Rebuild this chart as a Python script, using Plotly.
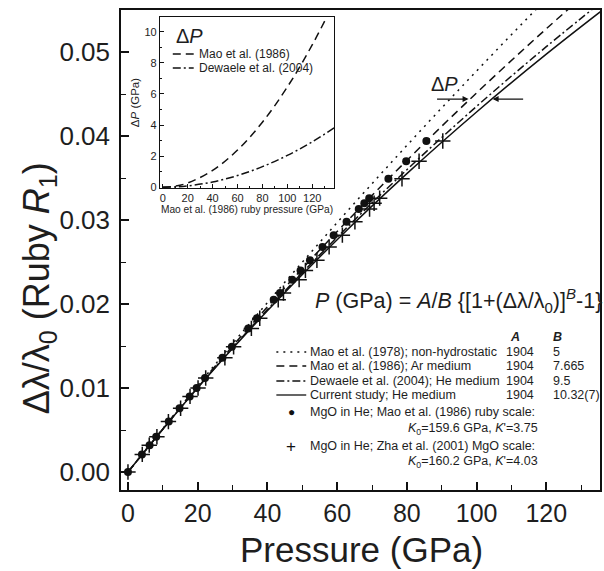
import plotly.graph_objects as go

# ---------------- data ----------------
# Ruby gauge curves: Δλ/λ0 vs pressure (GPa) for each calibration (A=1904)
P_grid = [0, 20, 40, 60, 80, 100, 120, 140]
y_mao1978 = [0.0, 0.010290, 0.020178, 0.029695, 0.038874, 0.047739, 0.056315, 0.0645]
y_mao1986 = [0.0, 0.010154, 0.019670, 0.028629, 0.037095, 0.045126, 0.052764, 0.060050]
y_dewaele = [0.0, 0.010062, 0.019340, 0.027950, 0.035987, 0.043528, 0.050631, 0.057349]
y_current = [0.0, 0.010023, 0.019197, 0.027660, 0.035519, 0.042859, 0.049747, 0.056239]

legend_rows = ["Mao et al. (1978); non-hydrostatic", "Mao et al. (1986); Ar medium",
               "Dewaele et al. (2004); He medium", "Current study; He medium"]
A_vals = ["1904", "1904", "1904", "1904"]
B_vals = ["5", "7.665", "9.5", "10.32(7)"]

# MgO in He: ruby shift and pressures on the two scales
mgo_shift = [0.0, 0.0021, 0.0032, 0.0042, 0.0060, 0.0076, 0.0090, 0.0100, 0.0112, 0.0136,
             0.0149, 0.0171, 0.0183, 0.0205, 0.0213, 0.0229, 0.0240, 0.0252, 0.0268,
             0.0282, 0.0298, 0.0313, 0.0320, 0.0326, 0.0349, 0.0370, 0.0394]
P_mao_ruby = [0, 4.0, 6.2, 8.1, 11.7, 14.8, 17.7, 19.7, 22.1, 27.1, 29.8, 34.5, 37.0,
              41.8, 43.6, 47.1, 49.5, 52.2, 55.8, 59.0, 62.7, 66.2, 67.8, 69.2, 74.7,
              79.8, 85.6]
P_zha_mgo = [0, 4.1, 6.1, 8.3, 11.6, 15.1, 17.8, 20.1, 22.3, 27.8, 30.3, 35.4, 37.8,
             43.1, 44.6, 49.1, 50.9, 54.2, 57.7, 61.5, 65.1, 69.3, 70.6, 72.2, 78.6,
             83.5, 90.3]

# Inset: ΔP vs Mao et al. (1986) ruby pressure
P_inset = [0, 10, 20, 40, 60, 80, 100, 120, 140]
dP_mao1986 = [0, 0.069, 0.275, 1.079, 2.391, 4.185, 6.445, 9.152, 12.291]
dP_dewaele = [0, 0.021, 0.085, 0.337, 0.751, 1.323, 2.046, 2.919, 3.939]

# ---------------- layout helpers ----------------
W, H = 604, 571
L, R, T, B = 121, 602, 10, 490
def px(x): return (x - L) / (R - L)
def py(y): return (B - y) / (B - T)

FONT = "Arial, Liberation Sans, sans-serif"
INK = "#111111"
TXT = "#1e1e1e"
DOT = "2px,5px"
DASH = "8px,5px"
DASHDOT = "8px,3px,2px,3px"
LEG = 12.5

fig = go.Figure()

styles = [DOT, DASH, DASHDOT, "solid"]
for ys, dash, nm in zip([y_mao1978, y_mao1986, y_dewaele, y_current], styles, legend_rows):
    fig.add_trace(go.Scatter(x=P_grid, y=ys, mode="lines", name=nm,
                             line=dict(color=INK, width=1.5, dash=dash, shape="spline"),
                             xaxis="x", yaxis="y"))

fig.add_trace(go.Scatter(x=P_mao_ruby, y=mgo_shift, mode="markers",
                         marker=dict(symbol="circle", size=8, color=INK),
                         xaxis="x", yaxis="y"))
fig.add_trace(go.Scatter(x=P_zha_mgo, y=mgo_shift, mode="markers",
                         marker=dict(symbol="cross-thin", size=11, color=INK,
                                     line=dict(color=INK, width=1.5)),
                         xaxis="x", yaxis="y"))

fig.add_trace(go.Scatter(x=P_inset, y=dP_mao1986, mode="lines",
                         line=dict(color=INK, width=1.5, dash=DASH, shape="spline"),
                         xaxis="x2", yaxis="y2"))
fig.add_trace(go.Scatter(x=P_inset, y=dP_dewaele, mode="lines",
                         line=dict(color=INK, width=1.5, dash=DASHDOT, shape="spline"),
                         xaxis="x2", yaxis="y2"))

shapes = []
annotations = []

def text_at(x, y, text, size, anchor="left", color=TXT, angle=0):
    annotations.append(dict(x=px(x), y=py(y), xref="paper", yref="paper", text=text,
                            showarrow=False, xanchor=anchor, yanchor="middle",
                            textangle=angle, font=dict(size=size, color=color)))

# axis titles
text_at(39, 288, "Δλ/λ<sub>0</sub> (Ruby <i>R</i><sub>1</sub>)", 36, anchor="center", angle=-90)
text_at(363, 549, "Pressure (GPa)", 35, anchor="center")

# main legend block
row_y = [352, 366, 381, 395]
for yy, dash, txt, a, b in zip(row_y, styles, legend_rows, A_vals, B_vals):
    shapes.append(dict(type="line", xref="paper", yref="paper",
                       x0=px(277), x1=px(307), y0=py(yy), y1=py(yy),
                       line=dict(color=INK, width=1.3, dash=dash)))
    text_at(309, yy, txt, LEG)
    text_at(506, yy, a, LEG)
    text_at(553, yy, b, LEG)
text_at(510, 337, "<b><i>A</i></b>", LEG)
text_at(553, 337, "<b><i>B</i></b>", LEG)

marker_rows = [
    (412, "●", 12, "MgO in He; Mao et al. (1986) ruby scale:", 429,
     "<i>K</i><sub>0</sub>=159.6 GPa, <i>K</i>'=3.75"),
    (446, "+", 17, "MgO in He; Zha et al. (2001) MgO scale:", 462,
     "<i>K</i><sub>0</sub>=160.2 GPa, <i>K</i>'=4.03"),
]
for yy, sym, ss, txt, y2, ktxt in marker_rows:
    text_at(292, yy, sym, ss, anchor="center", color=INK)
    text_at(309, yy, txt, LEG)
    text_at(542, y2, ktxt, LEG, anchor="right")

# equation
text_at(314, 300, "<i>P</i> (GPa) = <i>A</i>/<i>B</i> {[1+(Δλ/λ<sub>0</sub>)]<sup><i>B</i></sup>-1}", 21.5)

# ΔP label with arrows on main plot
text_at(446, 84, "Δ<i>P</i>", 20, anchor="center")
annotations.append(dict(x=97.7, y=0.0444, xref="x", yref="y", text="", showarrow=True,
                        ax=-33, ay=0, arrowhead=2, arrowsize=1, arrowwidth=1.2, arrowcolor=INK))
annotations.append(dict(x=104.6, y=0.0444, xref="x", yref="y", text="", showarrow=True,
                        ax=32, ay=0, arrowhead=2, arrowsize=1, arrowwidth=1.2, arrowcolor=INK))

# inset legend
text_at(174, 36, "Δ<i>P</i>", 20)
for yy, dash, txt in [(54, DASH, "Mao et al. (1986)"), (68, DASHDOT, "Dewaele et al. (2004)")]:
    shapes.append(dict(type="line", xref="paper", yref="paper",
                       x0=px(173), x1=px(194), y0=py(yy), y1=py(yy),
                       line=dict(color=INK, width=1.3, dash=dash)))
    text_at(197, yy, txt, 12)

axis_common = dict(showgrid=False, zeroline=False, showline=True, mirror=True,
                   linecolor=INK, ticks="inside", tickcolor=INK)

fig.update_layout(
    width=W, height=H,
    margin=dict(l=L, r=W - R, t=T, b=H - B),
    paper_bgcolor="white", plot_bgcolor="white",
    showlegend=False,
    font=dict(family=FONT, color=TXT),
    xaxis=dict(**axis_common, domain=[0, 1], anchor="y", range=[-2, 135.4],
               dtick=20, tick0=0, ticklen=8, tickwidth=1.5, linewidth=1.5,
               minor=dict(dtick=10, ticklen=5, ticks="inside", tickcolor=INK, tickwidth=1.2),
               tickfont=dict(size=25, color=TXT)),
    yaxis=dict(**axis_common, domain=[0, 1], anchor="x", range=[-0.00214, 0.0550],
               dtick=0.01, tick0=0, tickformat=".2f", ticklen=8, tickwidth=1.5, linewidth=1.5,
               minor=dict(dtick=0.005, ticklen=5, ticks="inside", tickcolor=INK, tickwidth=1.2),
               tickfont=dict(size=26, color=TXT), ticklabelstandoff=4),
    xaxis2=dict(**axis_common, domain=[px(160), px(335)], anchor="y2", range=[-2.4, 137.6],
                dtick=20, tick0=0, ticklen=4, tickwidth=1, linewidth=1,
                minor=dict(dtick=10, ticklen=2, ticks="inside", tickcolor=INK),
                tickfont=dict(size=11, color=TXT),
                title=dict(text="Mao et al. (1986) ruby pressure (GPa)",
                           font=dict(size=10.2, color=TXT), standoff=2)),
    yaxis2=dict(**axis_common, domain=[py(188), py(17)], anchor="x2", range=[-0.05, 10.95],
                dtick=2, tick0=0, ticklen=4, tickwidth=1, linewidth=1,
                minor=dict(dtick=1, ticklen=2, ticks="inside", tickcolor=INK),
                tickfont=dict(size=11, color=TXT),
                title=dict(text="Δ<i>P</i> (GPa)", font=dict(size=11.5, color=TXT), standoff=2)),
    shapes=shapes,
    annotations=annotations,
)

fig.write_html("out.html", config={"displayModeBar": False},
               post_script="document.body.style.margin='0px';")
